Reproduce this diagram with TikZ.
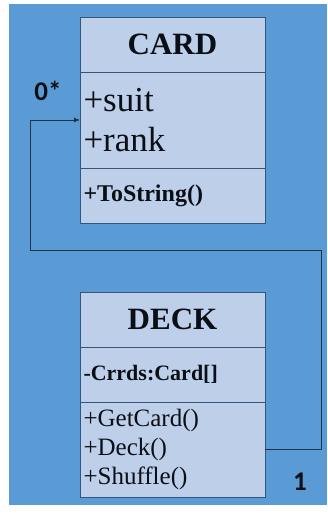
\documentclass[tikz,border=0pt]{standalone}
\usepackage{fontspec}
\setmainfont{Liberation Serif}
\newfontfamily\multfont{Carlito}
\usepackage{xcolor}
\usetikzlibrary{arrows.meta,positioning}
\definecolor{slideblue}{RGB}{91,155,213}
\definecolor{boxblue}{RGB}{190,208,233}
\definecolor{edgeblue}{RGB}{52,86,125}
\definecolor{inkblue}{RGB}{10,14,22}
\tikzset{
  part/.style={rectangle, draw=edgeblue, fill=boxblue, line width=0.8pt, text=inkblue,
               minimum width=185pt, text width=178pt, inner sep=0pt, outer sep=0pt},
  head/.style={part, align=center, minimum height=55pt, font=\fontsize{31}{34}\selectfont\bfseries},
  fields/.style={part, align=left, minimum height=#1},
  fields/.default={55pt},
  assoc/.style={-{Latex[length=6pt, width=5pt]}, line width=0.8pt, edgeblue!60!black},
  mult/.style={font=\multfont\fontsize{27}{28}\selectfont\bfseries, text=inkblue, inner sep=0pt},
}

\begin{document}
\begin{tikzpicture}[x=1pt, y=-1pt]
\useasboundingbox (0,0) rectangle (327,516);
\fill[slideblue] (9,4) rectangle (327,505);
% card class
\node[head] (cardhead) at (172.5,44.5) {CARD};
\node[fields=96pt, below=0pt of cardhead, font=\fontsize{35}{40}\selectfont] (cardattr) {+suit\\+rank};
\node[fields, below=0pt of cardattr, font=\fontsize{24}{26}\selectfont\bfseries] (cardops) {+ToString()};
% deck class
\node[head] (deckhead) at (172.5,319.5) {DECK};
\node[fields, below=0pt of deckhead, font=\fontsize{22}{24}\selectfont\bfseries] (deckattr) {-Crrds:Card[]};
\node[fields=95pt, below=0pt of deckattr, font=\fontsize{25}{29}\selectfont] (deckops) {+GetCard()\\+Deck()\\+Shuffle()};
% association
\coordinate (turnright) at (321,250);
\coordinate (turnleft) at (30,250);
\draw[assoc] (deckops.east) -| (turnright) -- (turnleft) |- (cardattr.west);
\node[mult] (many) at (48,91) {0*};
\node[mult] (one) at (300,482) {1};
\end{tikzpicture}
\end{document}
